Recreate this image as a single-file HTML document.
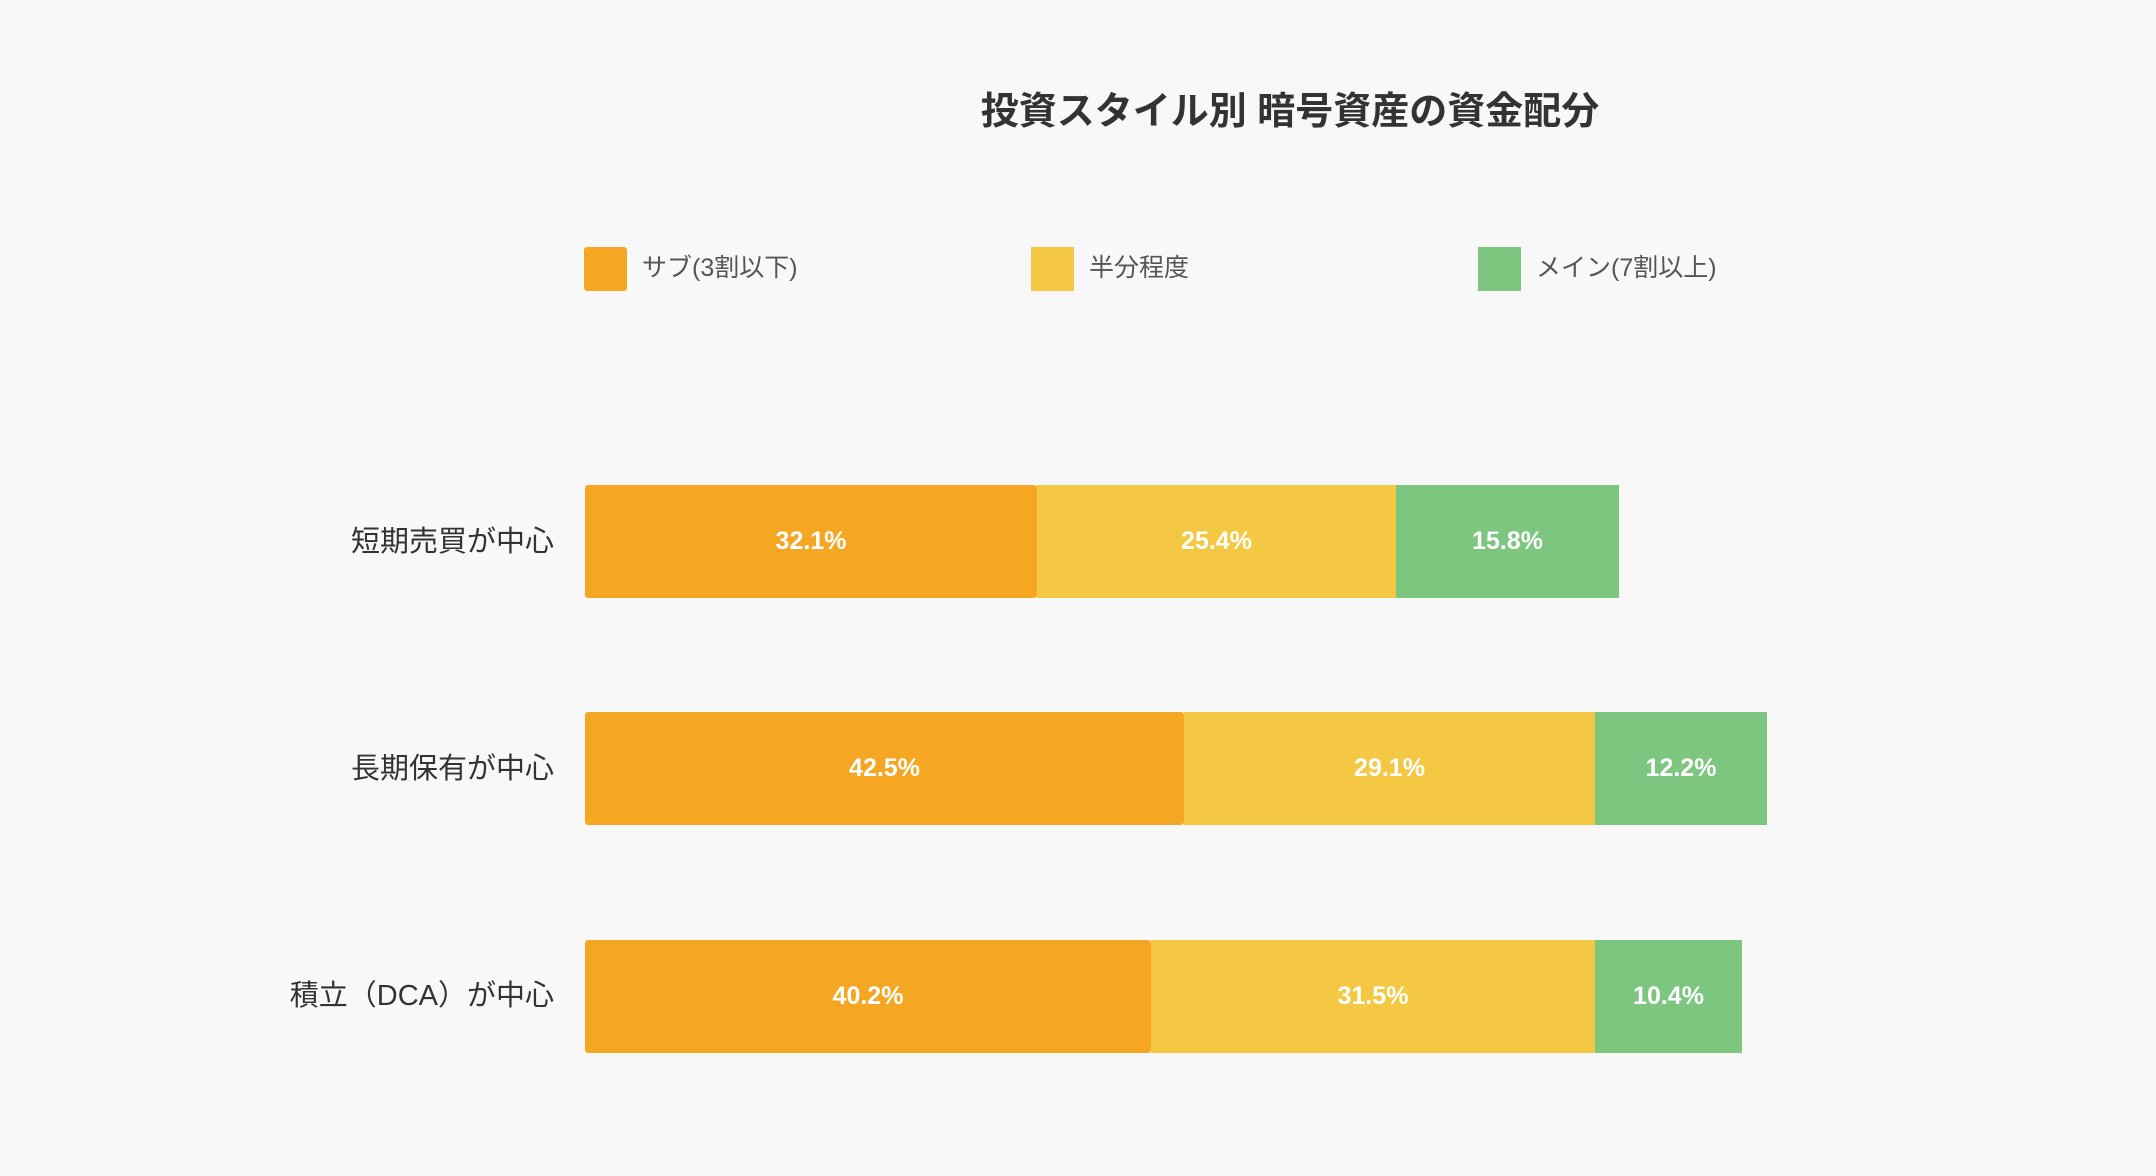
<!DOCTYPE html>
<html><head><meta charset="utf-8"><style>
body{margin:0;width:2156px;height:1176px;background:#f8f8f8;position:relative;overflow:hidden;font-family:"Liberation Sans","Noto Sans CJK JP",sans-serif;}
.t{position:absolute;white-space:nowrap}
.title{left:0;width:2580px;text-align:center;top:80px;font-size:38px;font-weight:bold;color:#333}
.sq{position:absolute;width:43px;height:44px;top:247px}
.lg{top:248px;font-size:25px;color:#555}
.cat{right:1602px;font-size:29px;color:#333}
.seg{position:absolute;display:flex;align-items:center;justify-content:center;color:#fff;font-weight:bold;font-size:25px}
.o{background:#f5a623;border-radius:3px}.y{background:#f4c842}.g{background:#7dc67f}
</style></head><body>
<div class="t title">投資スタイル別 暗号資産の資金配分</div>
<div class="sq o" style="left:584px"></div><div class="t lg" style="left:642px">サブ(3割以下)</div>
<div class="sq y" style="left:1031px"></div><div class="t lg" style="left:1089px">半分程度</div>
<div class="sq g" style="left:1478px"></div><div class="t lg" style="left:1536px">メイン(7割以上)</div>

<div class="t cat" style="top:518px">短期売買が中心</div>
<div class="seg o" style="left:585px;width:452px;top:485px;height:113px">32.1%</div>
<div class="seg y" style="left:1037px;width:359px;top:485px;height:113px">25.4%</div>
<div class="seg g" style="left:1396px;width:223px;top:485px;height:113px">15.8%</div>

<div class="t cat" style="top:745px">長期保有が中心</div>
<div class="seg o" style="left:585px;width:599px;top:712px;height:113px">42.5%</div>
<div class="seg y" style="left:1184px;width:411px;top:712px;height:113px">29.1%</div>
<div class="seg g" style="left:1595px;width:172px;top:712px;height:113px">12.2%</div>

<div class="t cat" style="top:972px">積立（DCA）が中心</div>
<div class="seg o" style="left:585px;width:566px;top:940px;height:113px">40.2%</div>
<div class="seg y" style="left:1151px;width:444px;top:940px;height:113px">31.5%</div>
<div class="seg g" style="left:1595px;width:147px;top:940px;height:113px">10.4%</div>
</body></html>
